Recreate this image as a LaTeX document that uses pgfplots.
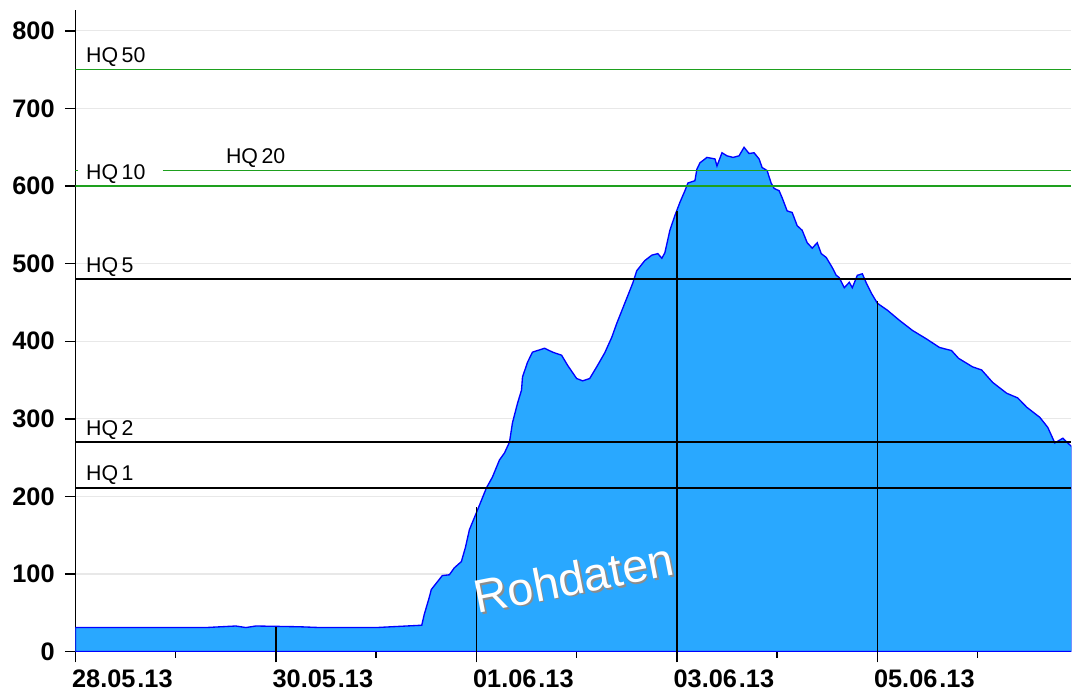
\documentclass[border=0pt]{standalone}
\usepackage{fontspec}
\setmainfont{Liberation Sans}
\usepackage{pgfplots}
\pgfplotsset{compat=1.18}
\definecolor{fillblue}{RGB}{41,168,255}
\definecolor{lineblue}{RGB}{0,0,255}
\definecolor{hqgreen}{RGB}{30,160,30}
\definecolor{gridgray}{RGB}{232,232,232}
\newcommand{\dt}[3]{#1.#2\kern1.5pt.#3}

\begin{document}
\begin{tikzpicture}
\begin{axis}[
  scale only axis,
  width=747.4pt, height=481.5pt,
  xmin=0, xmax=9.935,
  ymin=0, ymax=827,
  axis x line=bottom, axis y line=left,
  axis line style={-, line width=1pt},
  tick align=outside,
  major tick length=8pt, minor tick length=4.5pt,
  tick style={black, line width=1pt},
  xtick={0,2,4,6,8},
  xticklabels={\dt{28}{05}{13},\dt{30}{05}{13},\dt{01}{06}{13},\dt{03}{06}{13},\dt{05}{06}{13}},
  minor xtick={1,3,5,7,9},
  ytick={0,100,...,800},
  ymajorgrids,
  major grid style={gridgray, line width=0.8pt},
  /pgf/number format/assume math mode=true,
  ticklabel style={font=\fontsize{19}{21}\selectfont\bfseries},
  yticklabel style={inner xsep=7.4pt},
  xticklabel style={anchor=north west, xshift=-6pt, yshift=-2pt},
  clip mode=individual,
]
% Abfluss (Rohdaten)
\addplot[fill=fillblue, draw=lineblue, line width=1pt] coordinates {
  (0,31) (1.30,31) (1.60,33) (1.70,31) (1.80,33) (2.24,32) (2.44,31)
  (3.00,31) (3.455,34)
  (3.48,48) (3.53,70) (3.55,80) (3.66,98) (3.73,99) (3.78,108) (3.85,116)
  (3.89,134) (3.93,157) (4.00,179) (4.10,211) (4.16,225) (4.23,247)
  (4.28,256) (4.33,270) (4.36,295) (4.41,320) (4.45,337) (4.46,354)
  (4.51,373) (4.56,386) (4.68,391) (4.76,386) (4.85,382) (4.91,369)
  (5.00,352) (5.06,349) (5.13,352) (5.20,367) (5.28,385) (5.35,405)
  (5.40,423) (5.48,449) (5.56,475) (5.60,491) (5.68,504) (5.75,511)
  (5.81,513) (5.85,507) (5.88,514) (5.93,543) (5.98,562) (6.03,579)
  (6.08,594) (6.11,604) (6.18,607) (6.20,622) (6.23,630) (6.30,637)
  (6.38,635) (6.40,626) (6.45,643) (6.50,639) (6.56,637) (6.62,639)
  (6.67,650) (6.72,642) (6.77,643) (6.82,635) (6.85,624) (6.90,620)
  (6.94,604) (6.97,597) (7.02,594) (7.05,585) (7.10,568) (7.15,566)
  (7.20,549) (7.25,543) (7.30,527) (7.35,520) (7.40,527) (7.44,513)
  (7.49,508) (7.55,495) (7.59,485) (7.62,482) (7.67,469) (7.72,476)
  (7.75,469) (7.80,485) (7.85,487) (7.89,475) (7.94,462) (8.00,449)
  (8.10,440) (8.22,427) (8.35,414) (8.49,403) (8.62,392) (8.74,388)
  (8.81,378) (8.95,367) (9.04,363) (9.15,347) (9.29,333) (9.40,327)
  (9.49,315) (9.62,302) (9.70,289) (9.77,269) (9.85,275) (9.94,264)
} \closedcycle;
% Tageslinien bis zur Kurve
\addplot[ycomb, black, line width=1pt, mark=none]
  coordinates {(2,32) (4,186) (6,568) (8,452)};
% HQ-Linien
\addplot[black, line width=1.1pt] coordinates {(0,211) (9.935,211)};
\addplot[black, line width=1.1pt] coordinates {(0,270) (9.935,270)};
\addplot[black, line width=1.1pt] coordinates {(0,480) (9.935,480)};
\addplot[hqgreen, line width=1.1pt] coordinates {(0,600) (9.935,600)};
\addplot[hqgreen, line width=1.1pt] coordinates {(0,620) (0.03,620)};
\addplot[hqgreen, line width=1.1pt] coordinates {(0.87,620) (9.935,620)};
\addplot[hqgreen, line width=1.1pt] coordinates {(0,750) (9.935,750)};
% Beschriftungen
\begin{scope}[every node/.style={anchor=base west, inner sep=0pt,
    font=\fontsize{16}{18}\selectfont, yshift=5.3pt}]
  \node at (axis cs:0.105,211) {HQ\,1};
  \node at (axis cs:0.105,270) {HQ\,2};
  \node at (axis cs:0.105,480) {HQ\,5};
  \node at (axis cs:0.105,600) {HQ\,10};
  \node at (axis cs:1.50,620) {HQ\,20};
  \node at (axis cs:0.105,750) {HQ\,50};
\end{scope}
\node[rotate=11, text=black!45, font=\fontsize{35}{37}\selectfont]
  at ([xshift=1.3pt,yshift=-1.3pt]axis cs:4.97,95) {Rohdaten};
\node[rotate=11, text=white, font=\fontsize{35}{37}\selectfont]
  at (axis cs:4.97,95) {Rohdaten};
\end{axis}
\path (current axis.south west) -- ++(-56.6pt,-36.2pt);
\path (current axis.north east) -- ++(0pt,7.5pt);
\end{tikzpicture}
\end{document}
